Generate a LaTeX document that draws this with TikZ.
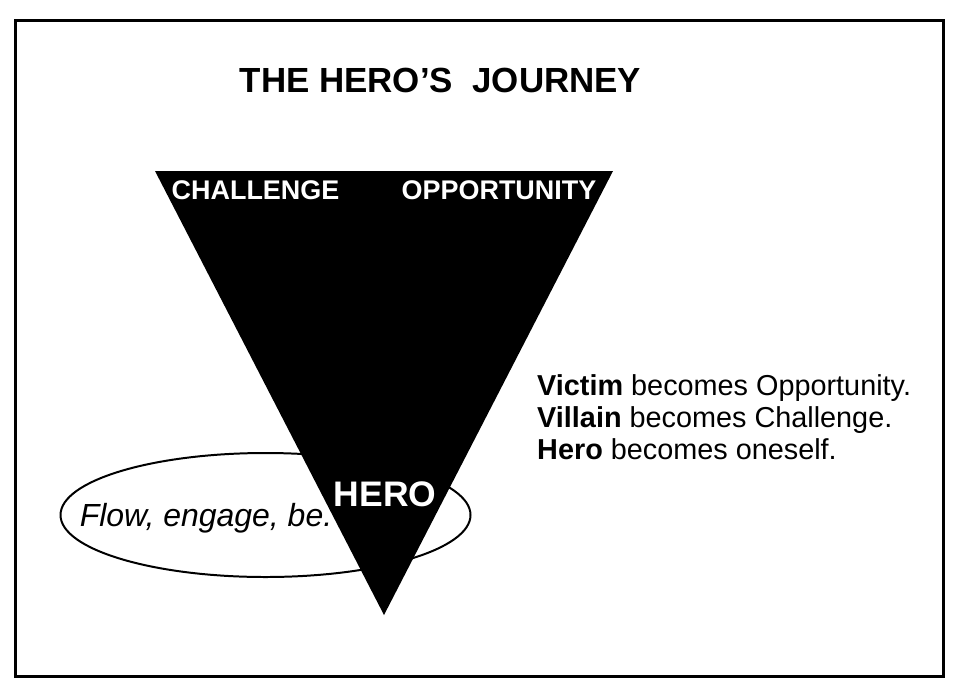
\documentclass[tikz,border=0pt]{standalone}
\usepackage{fontspec}
\setmainfont{Liberation Sans}
\usetikzlibrary{positioning}

\begin{document}
\begin{tikzpicture}[
    x=0.03cm, y=-0.03cm,
    frame/.style={draw, line width=2.56pt},
    heading/.style={font=\bfseries\fontsize{29.8}{32}\selectfont},
    corner/.style={text=white, inner sep=0pt, font=\bfseries\fontsize{23}{26}\selectfont},
    herolabel/.style={text=white, inner sep=0pt, font=\bfseries\fontsize{30.3}{32}\selectfont},
    flowlabel/.style={inner sep=0pt, font=\itshape\fontsize{27.3}{30}\selectfont},
    notes/.style={align=left, inner sep=0pt, font=\fontsize{24.6}{27.3}\selectfont}
  ]
    \useasboundingbox (0,0) rectangle (962,690);
    \draw[frame] (15.5,20.5) rectangle (943.5,676.5);

    % ellipse behind the funnel
    \draw[line width=1.7pt] (265.5,515) ellipse [x radius=205, y radius=62];

    % funnel
    \coordinate (tl) at (155,171);
    \coordinate (tr) at (613,171);
    \coordinate (tip) at (384,615);
    \fill (tl) -- (tr) -- (tip) -- cycle;

    \node[heading] (title) at (440.5,80) {THE HERO’S\ \ JOURNEY};
    \node[corner] (chal) at (255.5,190) {CHALLENGE};
    \node[corner] (opp) at (499,190) {OPPORTUNITY};
    \node[herolabel] (hero) at (385,494) {HERO};
    \node[flowlabel] (flow) at (206,518) {Flow, engage, be.};

    \node[notes, anchor=north west] (roles) at (537,374)
      {\textbf{Victim} becomes Opportunity.\\
       \textbf{Villain} becomes Challenge.\\
       \textbf{Hero} becomes oneself.};
  \end{tikzpicture}
\end{document}
